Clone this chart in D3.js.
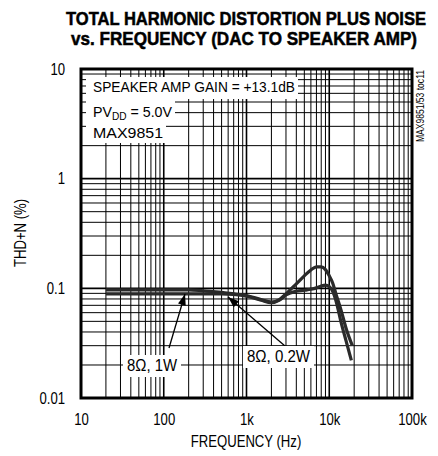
<!DOCTYPE html>
<html><head><meta charset="utf-8">
<script src="https://cdn.jsdelivr.net/npm/d3@7"></script>
<style>
html,body{margin:0;padding:0;background:#fff;}
text{font-family:"Liberation Sans Narrow","Arial Narrow","Liberation Sans",Arial,sans-serif;}
</style></head>
<body><svg id="c" width="438" height="456"></svg>
<script>
// ---- data ----
const xTickValues = [10, 100, 1000, 10000, 100000];
const xTickLabels = ["10", "100", "1k", "10k", "100k"];
const yTickValues = [0.01, 0.1, 1, 10];
const yTickLabels = ["0.01", "0.1", "1", "10"];

const freq1W = [20, 50, 100, 200, 300, 500, 700, 1000, 1500, 2000, 2500, 3000, 4000, 5000, 6000, 7000, 8000, 9000, 10000, 11000, 12000, 14000, 16000, 18500];
const thd1W  = [0.089, 0.089, 0.089, 0.089, 0.089, 0.089, 0.088, 0.085, 0.078, 0.074, 0.078, 0.087, 0.094, 0.096, 0.098, 0.101, 0.105, 0.107, 0.104, 0.094, 0.078, 0.048, 0.033, 0.022];

const freq02W = [20, 50, 100, 200, 300, 500, 700, 1000, 1500, 2000, 2500, 3000, 4000, 5000, 6000, 7000, 8000, 9000, 10000, 11000, 12000, 14000, 16000, 19000];
const thd02W  = [0.097, 0.097, 0.097, 0.097, 0.095, 0.092, 0.089, 0.086, 0.079, 0.075, 0.079, 0.089, 0.11, 0.13, 0.147, 0.157, 0.157, 0.148, 0.13, 0.112, 0.09, 0.062, 0.043, 0.030];

const titleLines = ["TOTAL HARMONIC DISTORTION PLUS NOISE", "vs. FREQUENCY (DAC TO SPEAKER AMP)"];

// ---- layout ----
const svg = d3.select("#c");
const L = 81, R = 412, T = 69, B = 398;
const x = d3.scaleLog().domain([10, 100000]).range([L, R]);
const y = d3.scaleLog().domain([0.01, 10]).range([B, T]);
const NARROW = 0.82;
function condense(sel, factor) {
  sel.each(function () {
    const w = this.getComputedTextLength();
    d3.select(this).attr("textLength", w * (factor || NARROW)).attr("lengthAdjust", "spacingAndGlyphs");
  });
}

// title (heavy condensed look: smaller font stretched vertically)
svg.append("text").attr("transform", "translate(246,25) scale(1,1.3)").attr("text-anchor", "middle")
  .attr("font-size", 14.5).attr("font-weight", "bold").attr("textLength", 360).attr("lengthAdjust", "spacingAndGlyphs")
  .attr("stroke", "#000").attr("stroke-width", 0.4)
  .text(titleLines[0]);
svg.append("text").attr("transform", "translate(244,45) scale(1,1.3)").attr("text-anchor", "middle")
  .attr("font-size", 14.5).attr("font-weight", "bold").attr("textLength", 346).attr("lengthAdjust", "spacingAndGlyphs")
  .attr("stroke", "#000").attr("stroke-width", 0.4)
  .text(titleLines[1]);

// grid
const g = svg.append("g");
const minorX = [];
for (let d = 10; d < 100000; d *= 10) for (let k = 2; k <= 9; k++) minorX.push(d * k);
const minorY = [];
for (let d = 0.01; d < 9; d *= 10) for (let k = 2; k <= 9; k++) minorY.push(+(d * k).toPrecision(3));
g.selectAll(".gx").data(minorX).enter().append("line")
  .attr("x1", d => x(d)).attr("x2", d => x(d)).attr("y1", T).attr("y2", B)
  .attr("stroke", "#000").attr("stroke-width", 1);
g.selectAll(".gy").data(minorY).enter().append("line")
  .attr("y1", d => y(d)).attr("y2", d => y(d)).attr("x1", L).attr("x2", R)
  .attr("stroke", "#000").attr("stroke-width", 1);
g.selectAll(".dx").data(xTickValues).enter().append("line")
  .attr("x1", d => x(d)).attr("x2", d => x(d)).attr("y1", T).attr("y2", B)
  .attr("stroke", "#000").attr("stroke-width", 1.6);
g.selectAll(".dy").data(yTickValues).enter().append("line")
  .attr("y1", d => y(d)).attr("y2", d => y(d)).attr("x1", L).attr("x2", R)
  .attr("stroke", "#000").attr("stroke-width", 1.6);

// info text with white boxes
function boxedText(tx, ty, size, build, targetW, padL, padR, boxTop, boxBot) {
  const grp = svg.append("g");
  const rect = grp.append("rect").attr("fill", "#fff");
  const t = grp.append("text").attr("x", tx).attr("y", ty).attr("font-size", size).attr("fill", "#000");
  build(t);
  t.attr("textLength", targetW).attr("lengthAdjust", "spacingAndGlyphs");
  rect.attr("x", tx - padL).attr("width", targetW + padL + padR)
      .attr("y", boxTop).attr("height", boxBot - boxTop);
  return grp;
}
boxedText(93, 92, 15.5, t => t.text("SPEAKER AMP GAIN = +13.1dB"), 202, 7, 3, 77, 99);
boxedText(93, 117, 15.5, t => {
  t.append("tspan").text("PV");
  t.append("tspan").attr("font-size", 11).attr("dy", 3).text("DD");
  t.append("tspan").attr("dy", -3).text(" = 5.0V");
}, 79, 7, 3, 99, 122);
boxedText(93, 138, 15.5, t => t.text("MAX9851"), 70, 7, 3, 122, 143);

// curves
const line = d3.line().x(d => x(d[0])).y(d => y(d[1])).curve(d3.curveMonotoneX);
const s1 = freq1W.map((f, i) => [f, thd1W[i]]);
const s2 = freq02W.map((f, i) => [f, thd02W[i]]);
svg.append("path").attr("d", line(s2)).attr("fill", "none").attr("stroke", "#2a2a2a").attr("stroke-width", 3.2);
svg.append("path").attr("d", line(s1)).attr("fill", "none").attr("stroke", "#2a2a2a").attr("stroke-width", 3.2);

// frame
svg.append("rect").attr("x", L).attr("y", T).attr("width", R - L).attr("height", B - T)
  .attr("fill", "none").attr("stroke", "#000").attr("stroke-width", 3);

// axes labels
const xa = svg.append("g").attr("transform", `translate(0,${B})`)
  .call(d3.axisBottom(x).tickValues(xTickValues).tickFormat((d, i) => xTickLabels[i]).tickSize(0).tickPadding(16));
xa.select(".domain").remove();
xa.selectAll("text").attr("font-size", 16).attr("fill", "#000")
  .attr("font-family", "\"Liberation Sans Narrow\",\"Arial Narrow\",\"Liberation Sans\",sans-serif");
condense(xa.selectAll("text"));
const ya = svg.append("g").attr("transform", `translate(${L},0)`)
  .call(d3.axisLeft(y).tickValues(yTickValues).tickFormat((d, i) => yTickLabels[i]).tickSize(0).tickPadding(16));
ya.select(".domain").remove();
ya.selectAll("text").attr("font-size", 16).attr("fill", "#000")
  .attr("font-family", "\"Liberation Sans Narrow\",\"Arial Narrow\",\"Liberation Sans\",sans-serif");
condense(ya.selectAll("text"));

const xl = svg.append("text").attr("x", 246).attr("y", 447).attr("text-anchor", "middle").attr("font-size", 16).text("FREQUENCY (Hz)");
condense(xl);
const yl = svg.append("text").attr("transform", "translate(26,233) rotate(-90)").attr("text-anchor", "middle").attr("font-size", 16).text("THD+N (%)");
condense(yl);
const tc = svg.append("text").attr("transform", "translate(424,106) rotate(-90)").attr("text-anchor", "middle").attr("font-size", 10.5).text("MAX9851/53 toc11");
tc.attr("textLength", 72).attr("lengthAdjust", "spacingAndGlyphs");

// annotations
function arrow(x1, y1, x2, y2) {
  svg.append("line").attr("x1", x1).attr("y1", y1).attr("x2", x2).attr("y2", y2).attr("stroke", "#000").attr("stroke-width", 1.3);
  const a = Math.atan2(y2 - y1, x2 - x1), len = 11, w = 4;
  const bx = x2 - len * Math.cos(a), by = y2 - len * Math.sin(a);
  const px = -Math.sin(a) * w, py = Math.cos(a) * w;
  svg.append("path").attr("d", `M${x2},${y2}L${bx + px},${by + py}L${bx - px},${by - py}Z`).attr("fill", "#000");
}
arrow(169, 348, 185, 294);
arrow(285, 346, 228, 297);
boxedText(127, 371, 16, t => t.text("8Ω, 1W"), 50, 4, 4, 355, 377);
boxedText(247, 362, 16, t => t.text("8Ω, 0.2W"), 63, 4, 4, 346, 368);
</script></body></html>
